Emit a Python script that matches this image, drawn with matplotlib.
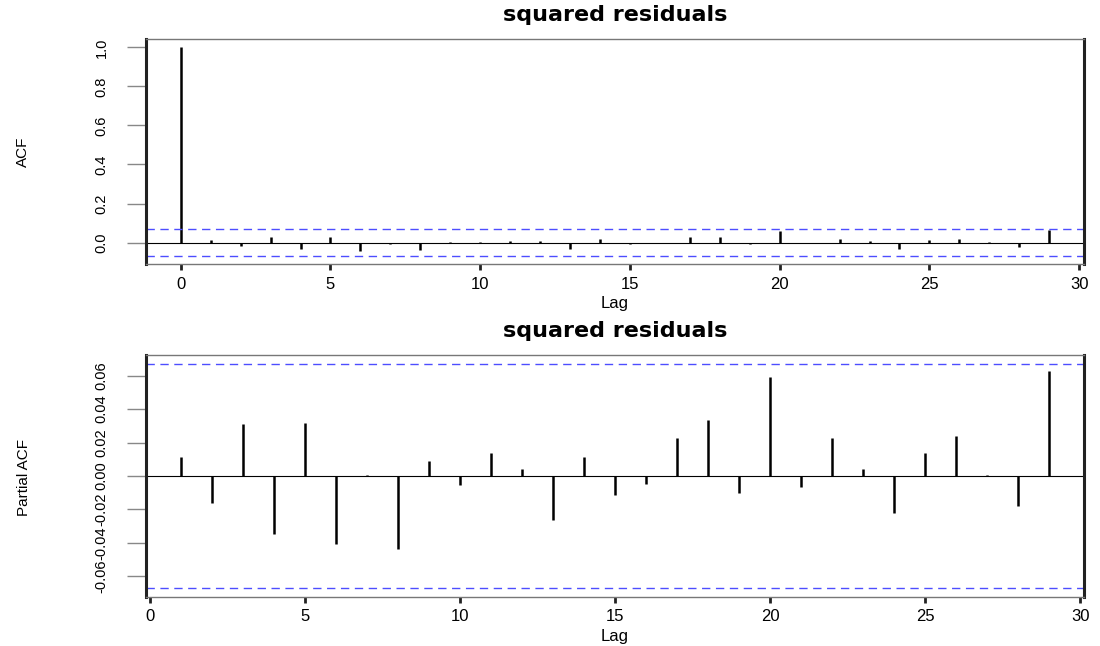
import matplotlib
matplotlib.use('Agg')
import matplotlib.pyplot as plt

# ACF / PACF of the squared residuals
acf_lags = list(range(0, 30))
acf_vals = [1.0, 0.012, -0.019, 0.031, -0.034, 0.028, -0.041, -0.005, -0.040, 0.003,
            0.001, 0.007, 0.007, -0.031, 0.017, -0.007, -0.003, 0.027, 0.031, -0.007,
            0.058, -0.003, 0.017, 0.010, -0.031, 0.015, 0.017, 0.001, -0.024, 0.064]

pacf_lags = list(range(1, 30))
pacf_vals = [0.0116, -0.0164, 0.0312, -0.0350, 0.0318, -0.0410, 0.0004, -0.0440, 0.0088, -0.0056,
             0.0136, 0.0042, -0.0266, 0.0116, -0.0116, -0.0050, 0.0228, 0.0336, -0.0100, 0.0592,
             -0.0068, 0.0228, 0.0044, -0.0220, 0.0136, 0.0238, 0.0008, -0.0182, 0.0630]

conf = 0.0671  # 1.96/sqrt(n)

title = 'squared residuals'
acf_yticks = [0.0, 0.2, 0.4, 0.6, 0.8, 1.0]
pacf_yticks = [-0.06, -0.04, -0.02, 0.00, 0.02, 0.04, 0.06]
xticks = [0, 5, 10, 15, 20, 25, 30]

plt.rcParams['font.family'] = ['Liberation Sans', 'DejaVu Sans']

fig = plt.figure(figsize=(11, 6.46), dpi=100)
ax1 = fig.add_axes([0.1327, 0.5913, 0.8527, 0.3483])
ax2 = fig.add_axes([0.1327, 0.0759, 0.8527, 0.3746])


def r_range(vals):
    lo, hi = min(vals), max(vals)
    pad = 0.04 * (hi - lo)
    return lo - pad, hi + pad


def style(ax, yticks, ylabels):
    for side in ['top', 'bottom']:
        ax.spines[side].set_color('#777777')
        ax.spines[side].set_linewidth(1.0)
    for side in ['left', 'right']:
        ax.spines[side].set_color('#222222')
        ax.spines[side].set_linewidth(2.2)
    ax.set_xticks(xticks)
    ax.set_xticklabels([str(t) for t in xticks], fontsize=12)
    ax.tick_params(axis='x', length=4, width=2, color='#222222', pad=5)
    ax.set_yticks(yticks)
    ax.set_yticklabels(ylabels, rotation=90, va='center', fontsize=10.5)
    ax.tick_params(axis='y', length=14, width=1, color='#888888', pad=13)
    ax.set_title(title, fontsize=16, fontweight='bold', family='DejaVu Sans', pad=13)
    ax.set_xlabel('Lag', fontsize=12, labelpad=3)


# top: ACF
ax1.vlines(acf_lags, 0, acf_vals, color='black', linewidth=1.8)
ax1.axhline(0, color='black', linewidth=0.8)
ax1.axhline(conf, color='#4d4dff', linestyle=(0, (6, 4)), linewidth=1)
ax1.axhline(-conf, color='#4d4dff', linestyle=(0, (6, 4)), linewidth=1)
ax1.set_xlim(r_range(acf_lags))
ax1.set_ylim(r_range(acf_vals + [-conf, conf]))
style(ax1, acf_yticks, ['%.1f' % t for t in acf_yticks])

# bottom: PACF
ax2.vlines(pacf_lags, 0, pacf_vals, color='black', linewidth=1.8)
ax2.axhline(0, color='black', linewidth=0.8)
ax2.axhline(conf, color='#4d4dff', linestyle=(0, (6, 4)), linewidth=1)
ax2.axhline(-conf, color='#4d4dff', linestyle=(0, (6, 4)), linewidth=1)
ax2.set_xlim(r_range(pacf_lags))
ax2.set_ylim(r_range(pacf_vals + [-conf, conf]))
style(ax2, pacf_yticks, ['%.2f' % t for t in pacf_yticks])

# y labels placed like R's mtext
fig.text(23 / 1100, 1 - 152 / 646, 'ACF', rotation=90, ha='center', va='center', fontsize=11)
fig.text(24 / 1100, 1 - 477 / 646, 'Partial ACF', rotation=90, ha='center', va='center', fontsize=11)

plt.savefig('out.png', dpi=100)
